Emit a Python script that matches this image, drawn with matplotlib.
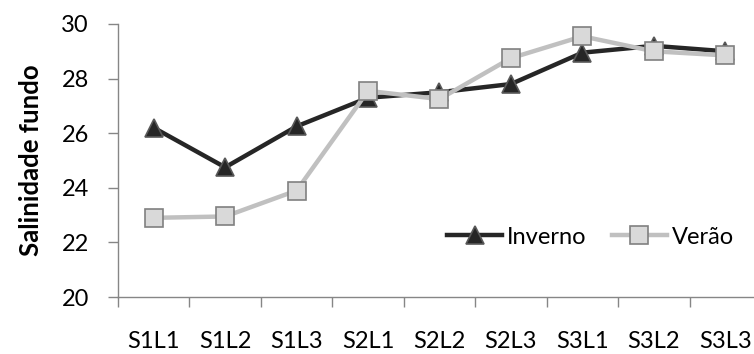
import matplotlib
matplotlib.use("Agg")
import matplotlib.pyplot as plt

categories = ["S1L1", "S1L2", "S1L3", "S2L1", "S2L2", "S2L3", "S3L1", "S3L2", "S3L3"]
inverno = [26.2, 24.75, 26.25, 27.3, 27.5, 27.8, 28.95, 29.2, 29.0]
verao = [22.9, 22.95, 23.9, 27.55, 27.25, 28.75, 29.55, 29.0, 28.85]
yticks = [20, 22, 24, 26, 28, 30]

plt.rcParams['font.family'] = ['Lato', 'DejaVu Sans']
FS = 17

fig = plt.figure(figsize=(7.54, 3.54), dpi=100)
ax = fig.add_axes([118/754, 1-297/354, (761-118)/754, (297-24)/354])

x = list(range(len(categories)))
ax.plot(x, inverno, color='#262626', lw=3.2, marker='^', ms=13,
        markerfacecolor='#262626', markeredgecolor='#595959', markeredgewidth=1.2,
        label='Inverno', zorder=3)
ax.plot(x, verao, color='#c0c0c0', lw=3.2, marker='s', ms=12.5,
        markerfacecolor='#d9d9d9', markeredgecolor='#808080', markeredgewidth=1.2,
        label='Verão', zorder=4)

ax.set_xlim(-0.5, len(categories) - 0.5)
ax.set_ylim(20, 30)
ax.set_yticks(yticks)
ax.set_xticks([i - 0.5 for i in range(len(categories) + 1)], minor=False)
ax.set_xticklabels([])
ax.set_xticks(x, minor=True)
ax.set_xticklabels(categories, minor=True)
ax.tick_params(axis='x', which='major', length=7, color='#868686', width=1)
ax.tick_params(axis='x', which='minor', length=0, pad=24.5, labelsize=FS)
ax.tick_params(axis='y', length=7, color='#868686', width=1, labelsize=FS, pad=14)

for s in ['top', 'right']:
    ax.spines[s].set_visible(False)
for s in ['left', 'bottom']:
    ax.spines[s].set_color('#868686')
    ax.spines[s].set_linewidth(1)

ax.set_ylabel('Salinidade fundo', fontsize=18.5, fontweight='bold', labelpad=13)

ax.legend(loc='center left', bbox_to_anchor=(447/754, 1-237/354),
          bbox_transform=fig.transFigure, ncol=2, borderpad=0, borderaxespad=0,
          frameon=False, fontsize=FS, handlelength=2.33, handletextpad=0.21,
          columnspacing=1.06)

fig.savefig('out.png', dpi=100)
